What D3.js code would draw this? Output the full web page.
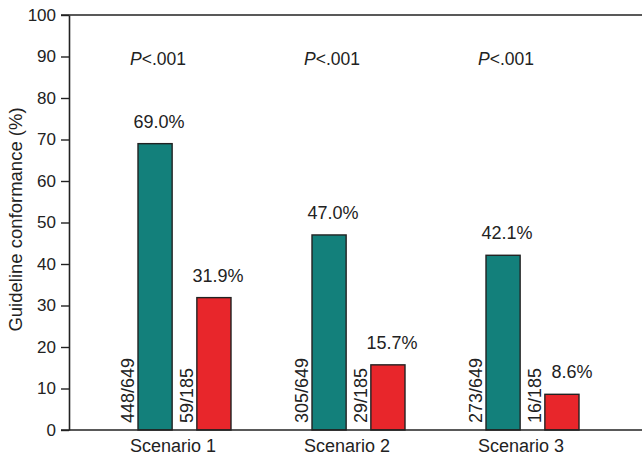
<!DOCTYPE html>
<html>
<head>
<meta charset="utf-8">
<script src="https://cdn.jsdelivr.net/npm/d3@7"></script>
<style>
  html, body { margin: 0; padding: 0; background: #fff; }
  svg { display: block; font-family: "Liberation Sans", Arial, Helvetica, sans-serif; }
</style>
</head>
<body>
<svg id="chart" width="642" height="459"></svg>
<script>
// Guideline conformance by scenario, two cohorts
const scenarios = ["Scenario 1", "Scenario 2", "Scenario 3"];
const seriesNames = ["Cohort A", "Cohort B"];
const conformanceA = [69.0, 47.0, 42.1];
const conformanceB = [31.9, 15.7, 8.6];
const countsA = ["448/649", "305/649", "273/649"];
const countsB = ["59/185", "29/185", "16/185"];
const pValues = ["<.001", "<.001", "<.001"];
const yTicks = [0, 10, 20, 30, 40, 50, 60, 70, 80, 90, 100];
const yTitle = "Guideline conformance (%)";

const colors = { "Cohort A": "#13807b", "Cohort B": "#e8262b" };
const ink = "#222";

const W = 642, H = 459;
const plotLeft = 69, plotTop = 15, plotBottom = 430;

const svg = d3.select("#chart");

const y = d3.scaleLinear().domain([0, 100]).range([plotBottom, plotTop]);
const x = d3.scaleBand().domain(scenarios).range([86, 608]).padding(0);
const xs = d3.scaleBand().domain(seriesNames).range([52, 145]).paddingInner(0.42);

const rows = scenarios.map((s, i) => ({
  scenario: s,
  values: [
    { series: seriesNames[0], value: conformanceA[i], count: countsA[i] },
    { series: seriesNames[1], value: conformanceB[i], count: countsB[i] }
  ],
  p: pValues[i]
}));

// top frame line
svg.append("line")
  .attr("x1", plotLeft - 8).attr("x2", W)
  .attr("y1", y(100)).attr("y2", y(100))
  .attr("stroke", ink).attr("stroke-width", 1.6);

// y axis
const yAxis = svg.append("g")
  .attr("transform", `translate(${plotLeft},0)`)
  .call(d3.axisLeft(y).tickValues(yTicks).tickSize(8).tickSizeOuter(0).tickPadding(5));
yAxis.select(".domain").attr("stroke", ink).attr("stroke-width", 1.6);
yAxis.selectAll(".tick line").attr("stroke", ink).attr("stroke-width", 1.4);
yAxis.selectAll(".tick text")
  .attr("fill", ink).attr("font-size", 17)
  .attr("font-family", "Liberation Sans, Arial, sans-serif");

// y axis title
svg.append("text")
  .attr("transform", `translate(22,${(plotTop + plotBottom) / 2 - 3}) rotate(-90)`)
  .attr("text-anchor", "middle")
  .attr("font-size", 18.5)
  .attr("fill", ink)
  .text(yTitle);

// groups
const g = svg.selectAll("g.group")
  .data(rows)
  .join("g")
  .attr("class", "group")
  .attr("transform", d => `translate(${x(d.scenario)},0)`);

g.selectAll("rect")
  .data(d => d.values)
  .join("rect")
  .attr("x", d => xs(d.series))
  .attr("width", xs.bandwidth())
  .attr("y", d => y(d.value))
  .attr("height", d => y(0) - y(d.value))
  .attr("fill", d => colors[d.series])
  .attr("stroke", ink)
  .attr("stroke-width", 1.4);

// percentage labels above bars
g.selectAll("text.pct")
  .data(d => d.values)
  .join("text")
  .attr("class", "pct")
  .attr("x", d => xs(d.series) + xs.bandwidth() / 2 + (d.value < 10 ? 10 : 4))
  .attr("y", d => y(d.value) - 16)
  .attr("text-anchor", "middle")
  .attr("font-size", 18)
  .attr("fill", ink)
  .text(d => d.value.toFixed(1) + "%");

// rotated counts beside bars
g.selectAll("text.count")
  .data(d => d.values)
  .join("text")
  .attr("class", "count")
  .attr("transform", d => `translate(${xs(d.series) - 4},${y(0) - 7}) rotate(-90)`)
  .attr("text-anchor", "start")
  .attr("font-size", 18)
  .attr("fill", ink)
  .text(d => d.count);

// P values
const pt = g.append("text")
  .attr("x", xs(seriesNames[0]) + xs.bandwidth() / 2 + 3)
  .attr("y", 65)
  .attr("text-anchor", "middle")
  .attr("font-size", 17.5)
  .attr("fill", ink);
pt.append("tspan").attr("font-style", "italic").text("P");
pt.append("tspan").text(d => d.p);

// x axis
svg.append("line")
  .attr("x1", plotLeft - 8).attr("x2", W)
  .attr("y1", y(0)).attr("y2", y(0))
  .attr("stroke", ink).attr("stroke-width", 1.6);

const xAxis = svg.append("g")
  .attr("transform", `translate(0,${y(0)})`)
  .call(d3.axisBottom(x).tickSize(0).tickPadding(9));
xAxis.select(".domain").remove();
xAxis.selectAll(".tick text")
  .attr("fill", ink).attr("font-size", 18)
  .attr("font-family", "Liberation Sans, Arial, sans-serif");
</script>
</body>
</html>
